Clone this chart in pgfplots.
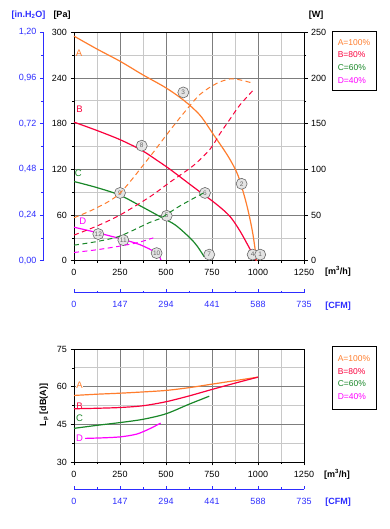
\documentclass[border=0pt]{standalone}
\usepackage{pgfplots}
\pgfplotsset{compat=1.18}
\usepackage{fontspec}
\setmainfont{Liberation Sans}
\definecolor{cA}{RGB}{255,125,45}
\definecolor{cB}{RGB}{250,0,60}
\definecolor{cC}{RGB}{25,135,40}
\definecolor{cD}{RGB}{255,0,255}
\definecolor{cBl}{RGB}{45,45,255}
\definecolor{gMaj}{RGB}{125,125,125}
\definecolor{gMin}{RGB}{200,200,200}
\definecolor{mkF}{RGB}{228,228,228}
\definecolor{mkD}{RGB}{105,105,105}
\pgfplotsset{
  base/.style={scale only axis, width=230pt, anchor=south west,
    font=\fontsize{9}{10}\selectfont,
    /pgf/number format/assume math mode=true,
    /pgf/number format/1000 sep={},
    major tick length=3.5pt, minor tick length=2pt,
    tick style={black,line width=0.6pt},
    axis line style={black,line width=0.8pt},
    clip=false},
  solidc/.style={line width=1.2pt, smooth},
  dashc/.style={line width=1pt, smooth, dash pattern=on 5pt off 3.5pt},
}
\begin{document}
\begin{tikzpicture}
\useasboundingbox (0pt,0pt) rectangle (390pt,529pt);
% ---------------- top: pressure ----------------
\begin{axis}[base, at={(74pt,268.3pt)}, height=228.4pt,
  xmin=0,xmax=1250,ymin=0,ymax=300,
  xtick={0,250,500,750,1000,1250}, minor xtick={125,375,625,875,1125},
  ytick={0,60,120,180,240,300}, minor ytick={30,90,150,210,270},
  xtick pos=bottom, ytick pos=left, tick align=outside,
  xticklabel style={yshift=-1pt},
  grid=both, major grid style={gMaj,line width=0.7pt}, minor grid style={gMin,line width=0.7pt}]
\addplot[cA, solidc] coordinates {(0,295) (125,278) (250,262) (375,244) (500,227) (600,210) (685,191) (757,166) (811,147) (850,132) (893,111) (938,74) (970,38) (993,0)};
\addplot[cB, solidc] coordinates {(0,182) (125,171) (250,159) (368,145) (450,132) (522,120) (648,97) (775,74) (848,58) (902,39) (957,15) (990,0)};
\addplot[cC, solidc] coordinates {(0,104) (125,96) (250,86) (368,71) (467,58) (550,47) (630,30) (670,19) (708,5)};
\addplot[cD, solidc] coordinates {(0,44) (123,37) (250,29) (359,21) (449,10) (472,1)};
\addplot[only marks, mark=none, nodes near coords, point meta=explicit symbolic,
  every node near coord/.append style={anchor=center, circle, draw=mkD, fill=mkF, text=mkD,
    inner sep=0pt, minimum size=11pt, line width=0.6pt, font=\fontsize{6.5}{6.5}\selectfont}]
  table[meta=lab] {
x y lab
594 221 3
911 101 2
971 8 4
1012 8 1
368 151 8
250 89 9
504 59 5
712 89 6
735 8 7
132 35 12
268 27 11
449 10 10
};
\node[cA, font=\fontsize{9.5}{10}\selectfont] at (axis cs:27,272) {A};
\node[cB, font=\fontsize{9.5}{10}\selectfont] at (axis cs:30,199) {B};
\node[cC, font=\fontsize{9.5}{10}\selectfont] at (axis cs:23,115) {C};
\node[cD, font=\fontsize{9.5}{10}\selectfont] at (axis cs:48,52) {D};
\end{axis}
% ---------------- top: power (W) ----------------
\begin{axis}[base, at={(74pt,268.3pt)}, height=228.4pt,
  xmin=0,xmax=1250,ymin=0,ymax=250, hide x axis, axis y line*=right,
  ytick={0,50,100,150,200,250}, minor ytick={25,75,125,175,225}, tick align=outside]
\addplot[cA, dashc] coordinates {(0,47) (125,58) (250,74) (413,114) (500,137) (594,161) (685,182) (775,194) (848,199) (900,198) (960,195)};
\addplot[cB, dashc] coordinates {(0,28) (125,38) (250,50) (413,70) (522,86) (648,104) (739,122) (793,139) (848,155) (900,170) (980,188)};
\addplot[cC, dashc] coordinates {(0,17) (125,21) (250,27) (413,42) (467,46) (576,60) (712,75)};
\addplot[cD, dashc] coordinates {(0,9) (125,12) (250,16) (350,20) (431,25)};
\end{axis}
% ---------------- top: in.H2O axis ----------------
\begin{axis}[base, at={(43.3pt,268.3pt)}, width=1pt, height=228.4pt,
  xmin=0,xmax=1,ymin=0,ymax=1.2, hide x axis, axis y line*=left,
  ytick={0,0.24,0.48,0.72,0.96,1.2}, yticklabels={{0,00},{0,24},{0,48},{0,72},{0,96},{1,20}},
  minor ytick={0.12,0.36,0.6,0.84,1.08}, tick align=outside,
  y axis line style={cBl,line width=1pt}, ytick style={cBl}, yticklabel style={text=cBl}]
\addplot[draw=none] coordinates {(0,0) (1,1.2)};
\end{axis}
% ---------------- top: CFM axis ----------------
\begin{axis}[base, at={(74pt,236.3pt)}, height=1pt,
  xmin=0,xmax=735,ymin=0,ymax=1, hide y axis, axis x line*=bottom,
  xtick={0,147,294,441,588,735}, minor xtick={73.5,220.5,367.5,514.5,661.5}, tick align=inside,
  x axis line style={cBl,line width=1pt}, xtick style={cBl}, xticklabel style={text=cBl, yshift=-5pt}]
\addplot[draw=none] coordinates {(0,0) (735,1)};
\end{axis}
% ---------------- bottom: noise ----------------
\begin{axis}[base, at={(74pt,67pt)}, height=113pt,
  xmin=0,xmax=1250,ymin=30,ymax=75,
  xtick={0,250,500,750,1000,1250}, minor xtick={125,375,625,875,1125},
  ytick={30,45,60,75}, minor ytick={37.5,52.5,67.5},
  xtick pos=bottom, ytick pos=left, tick align=outside,
  xticklabel style={yshift=-2pt},
  grid=both, major grid style={gMaj,line width=0.7pt}, minor grid style={gMin,line width=0.7pt}]
\addplot[cA, solidc] coordinates {(0,56.5) (125,57) (250,57.4) (375,57.9) (500,58.5) (625,59.6) (750,61) (875,62.4) (1000,63.8)};
\addplot[cB, solidc] coordinates {(0,51.2) (125,51.4) (250,51.7) (375,52.4) (500,54) (625,56.3) (750,58.9) (875,61.4) (1000,63.8)};
\addplot[cC, solidc] coordinates {(0,43.4) (125,44.6) (250,45.7) (375,47) (500,49.2) (625,53) (735,56.2)};
\addplot[cD, solidc] coordinates {(60,39.4) (150,39.6) (250,40) (340,41.1) (413,43.3) (471,45.5)};
\node[cA, font=\fontsize{9.5}{10}\selectfont, fill=white, inner sep=0.5pt] at (axis cs:30,60.4) {A};
\node[cB, font=\fontsize{9.5}{10}\selectfont, inner sep=0.5pt] at (axis cs:30,52.4) {B};
\node[cC, font=\fontsize{9.5}{10}\selectfont, fill=white, inner sep=0.5pt] at (axis cs:30,47.3) {C};
\node[cD, font=\fontsize{9.5}{10}\selectfont, fill=white, inner sep=0.5pt] at (axis cs:30,39.5) {D};
\end{axis}
% ---------------- bottom: CFM axis ----------------
\begin{axis}[base, at={(74pt,39.7pt)}, height=1pt,
  xmin=0,xmax=735,ymin=0,ymax=1, hide y axis, axis x line*=bottom,
  xtick={0,147,294,441,588,735}, minor xtick={73.5,220.5,367.5,514.5,661.5}, tick align=inside,
  x axis line style={cBl,line width=1pt}, xtick style={cBl}, xticklabel style={text=cBl, yshift=-5pt}]
\addplot[draw=none] coordinates {(0,0) (735,1)};
\end{axis}
% ---------------- texts ----------------
\begin{scope}[every node/.style={font=\fontsize{9}{10}\selectfont\bfseries, inner sep=0pt}]
\node[text=cBl] at (28.5pt,514pt) {[in.H\textsubscript{2}O]};
\node at (62pt,514pt) {[Pa]};
\node at (316pt,514pt) {[W]};
\node at (338pt,258pt) {[m\textsuperscript{3}/h]};
\node[text=cBl] at (338pt,223pt) {[CFM]};
\node at (337pt,55pt) {[m\textsuperscript{3}/h]};
\node[text=cBl] at (338pt,27pt) {[CFM]};
\node[rotate=90] at (44pt,124pt) {L\textsubscript{p} [dB(A)]};
\end{scope}
\node[draw=black, line width=0.9pt, minimum width=44pt, minimum height=58.7pt, inner sep=1.5pt,
  align=left, font=\fontsize{8.5}{12.7}\selectfont] at (354pt,467.7pt)
  {\textcolor{cA}{A=100\%}\\\textcolor{cB}{B=80\%}\\\textcolor{cC}{C=60\%}\\\textcolor{cD}{D=40\%}};
\node[draw=black, line width=0.9pt, minimum width=44pt, minimum height=63pt, inner sep=1.5pt,
  align=left, font=\fontsize{8.5}{12.7}\selectfont] at (354pt,151.5pt)
  {\textcolor{cA}{A=100\%}\\\textcolor{cB}{B=80\%}\\\textcolor{cC}{C=60\%}\\\textcolor{cD}{D=40\%}};
\end{tikzpicture}
\end{document}
